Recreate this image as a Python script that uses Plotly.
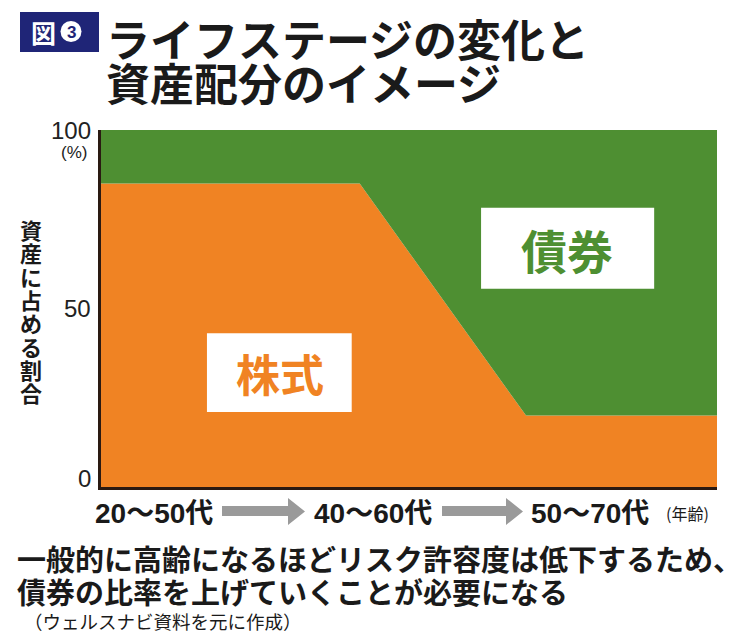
import plotly.graph_objects as go

# ---------------- data ----------------
stage_pos = [0, 42, 69, 100]          # relative position along the life stages
stock_share = [85, 85, 20, 20]        # 株式 (%)
bond_share = [15, 15, 80, 80]         # 債券 (%)
y_ticks = [0, 50, 100]
y_tick_labels = ["0", "50", "100"]
stage_labels = ["20〜50代", "40〜60代", "50〜70代"]

title_lines = ["ライフステージの変化と", "資産配分のイメージ"]
caption_lines = ["一般的に高齢になるほどリスク許容度は低下するため、",
                 "債券の比率を上げていくことが必要になる"]
source_text = "（ウェルスナビ資料を元に作成）"
y_title = "資産に占める割合"

ORANGE = "#F08323"
GREEN = "#4E8F32"
NAVY = "#1F2577"
AXIS = "#2a1a12"
JP = "Noto Sans CJK JP"
LAT = "Liberation Sans, Noto Sans CJK JP"

W, H = 750, 640
def X(px):
    return px / W
def Y(py):
    return 1 - py / H

fig = go.Figure()
fig.add_trace(go.Scatter(x=stage_pos, y=stock_share, mode="lines", stackgroup="alloc",
                         line=dict(width=0, color=ORANGE), fillcolor=ORANGE,
                         hoverinfo="skip", name="株式"))
fig.add_trace(go.Scatter(x=stage_pos, y=bond_share, mode="lines", stackgroup="alloc",
                         line=dict(width=0, color=GREEN), fillcolor=GREEN,
                         hoverinfo="skip", name="債券"))

ann = []
shapes = []

# ---- labels inside the chart (white boxes) ----
shapes.append(dict(type="rect", xref="x", yref="y", x0=17.2, x1=40.7, y0=21.0, y1=43.1,
                   fillcolor="white", line=dict(width=0), layer="above"))
ann.append(dict(xref="x", yref="y", x=29.0, y=32.0, text="<b>株式</b>", showarrow=False,
                font=dict(family=JP, size=44, color=ORANGE), xanchor="center", yanchor="middle"))
shapes.append(dict(type="rect", xref="x", yref="y", x0=61.7, x1=89.8, y0=55.5, y1=78.2,
                   fillcolor="white", line=dict(width=0), layer="above"))
ann.append(dict(xref="x", yref="y", x=75.7, y=66.8, text="<b>債券</b>", showarrow=False,
                font=dict(family=JP, size=46, color=GREEN), xanchor="center", yanchor="middle"))

# ---- y tick labels ----
for v, lab in zip(y_ticks, y_tick_labels):
    ann.append(dict(xref="paper", yref="y", x=X(93), y=v, text=lab, showarrow=False,
                    xanchor="right", yanchor="middle", yshift=(9 if v == 0 else 0),
                    font=dict(family="Liberation Sans", size=24, color="#222")))
ann.append(dict(xref="paper", yref="paper", x=X(74), y=Y(152), text="(%)", showarrow=False,
                xanchor="center", yanchor="middle",
                font=dict(family="Liberation Sans", size=17, color="#222")))

# ---- y title, vertical stacked characters ----
for i, ch in enumerate(y_title):
    ann.append(dict(xref="paper", yref="paper", x=X(31), y=Y(229 + i * 23.3),
                    text="<b>" + ch + "</b>", showarrow=False, xanchor="center", yanchor="middle",
                    font=dict(family=JP, size=22, color="#1a1a1a")))

# ---- x stage labels and arrows ----
for cx, lab in zip([154, 373, 590], stage_labels):
    ann.append(dict(xref="paper", yref="paper", x=X(cx), y=Y(513), text="<b>" + lab + "</b>",
                    showarrow=False, xanchor="center", yanchor="middle",
                    font=dict(family=LAT, size=28, color="#1a1a1a")))
ann.append(dict(xref="paper", yref="paper", x=X(687), y=Y(513), text="(年齢)", showarrow=False,
                xanchor="center", yanchor="middle", font=dict(family=JP, size=16, color="#1a1a1a")))

for x0, length in [(222, 83), (442, 81)]:
    hs = x0 + length - 17
    pts = [(x0, 506), (hs, 506), (hs, 498), (x0 + length, 511.5),
           (hs, 525), (hs, 516), (x0, 516)]
    path = "M " + " L ".join(f"{X(a):.5f},{Y(b):.5f}" for a, b in pts) + " Z"
    shapes.append(dict(type="path", xref="paper", yref="paper", path=path,
                       fillcolor="#9a9a9a", line=dict(width=0)))

# ---- title badge ----
shapes.append(dict(type="rect", xref="paper", yref="paper", x0=X(20), x1=X(99), y0=Y(52), y1=Y(12),
                   fillcolor=NAVY, line=dict(width=0)))
shapes.append(dict(type="circle", xref="paper", yref="paper", x0=X(60.5), x1=X(81.5),
                   y0=Y(42), y1=Y(21), fillcolor="white", line=dict(width=0)))
ann.append(dict(xref="paper", yref="paper", x=X(43), y=Y(32), text="<b>図</b>", showarrow=False,
                xanchor="center", yanchor="middle", font=dict(family=JP, size=25, color="white")))
ann.append(dict(xref="paper", yref="paper", x=X(71), y=Y(32), text="<b>3</b>", showarrow=False,
                xanchor="center", yanchor="middle",
                font=dict(family="Liberation Sans", size=17, color=NAVY)))

# ---- title lines ----
for i, line in enumerate(title_lines):
    ann.append(dict(xref="paper", yref="paper", x=X(104), y=Y(38 + i * 44), text="<b>" + line + "</b>",
                    showarrow=False, xanchor="left", yanchor="middle",
                    font=dict(family=JP, size=44, color="#1a1a1a")))

# ---- caption ----
for i, line in enumerate(caption_lines):
    ann.append(dict(xref="paper", yref="paper", x=X(15), y=Y(558 + i * 33), text="<b>" + line + "</b>",
                    showarrow=False, xanchor="left", yanchor="middle",
                    font=dict(family=JP, size=29, color="#1a1a1a")))
ann.append(dict(xref="paper", yref="paper", x=X(22), y=Y(621), text=source_text, showarrow=False,
                xanchor="left", yanchor="middle", font=dict(family=JP, size=18.5, color="#1a1a1a")))

fig.update_layout(
    width=W, height=H,
    margin=dict(l=0, r=0, t=0, b=0),
    paper_bgcolor="white", plot_bgcolor="white",
    showlegend=False,
    annotations=ann, shapes=shapes,
    xaxis=dict(domain=[X(101), X(717)], range=[0, 100], showgrid=False, zeroline=False,
               showticklabels=False, ticks="", showline=True, linecolor=AXIS, linewidth=3,
               fixedrange=True),
    yaxis=dict(domain=[Y(487), Y(130)], range=[0, 100], showgrid=False, zeroline=False,
               showticklabels=False, ticks="", showline=True, linecolor=AXIS, linewidth=3,
               fixedrange=True),
)

fig.write_html("out.html")
